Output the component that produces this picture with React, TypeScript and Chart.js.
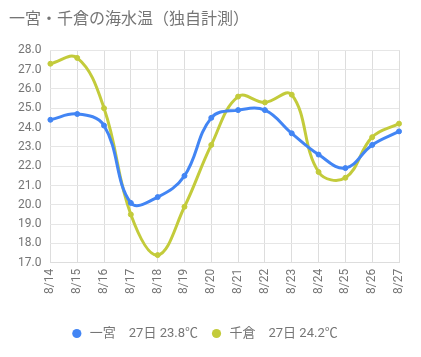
import React, { useEffect, useRef } from "react";
import { Chart, registerables } from "chart.js";

Chart.register(...registerables);

const categories = ["8/14", "8/15", "8/16", "8/17", "8/18", "8/19", "8/20", "8/21", "8/22", "8/23", "8/24", "8/25", "8/26", "8/27"];
const ichinomiya = [24.4, 24.7, 24.1, 20.1, 20.4, 21.5, 24.5, 24.9, 24.9, 23.7, 22.6, 21.9, 23.1, 23.8];
const chikura = [27.3, 27.6, 25.0, 19.5, 17.4, 19.9, 23.1, 25.6, 25.3, 25.7, 21.7, 21.4, 23.5, 24.2];
const seriesLabels = ["一宮　27日 23.8℃", "千倉　27日 24.2℃"];
const titleText = "一宮・千倉の海水温（独自計測）";

const FONT = "Roboto, 'Noto Sans CJK JP', sans-serif";
const GRAY = "#757575";

export default function App() {
  const ref = useRef<HTMLCanvasElement>(null);
  useEffect(() => {
    document.body.style.margin = "0";
    const chart = new Chart(ref.current!, {
      type: "line",
      data: {
        labels: categories,
        datasets: [
          {
            label: seriesLabels[0],
            data: ichinomiya,
            borderColor: "#4285F4",
            backgroundColor: "#4285F4",
            borderWidth: 3,
            pointRadius: 2.5,
            pointBorderWidth: 1,
            tension: 0.4,
          },
          {
            label: seriesLabels[1],
            data: chikura,
            borderColor: "#C3CB3B",
            backgroundColor: "#C3CB3B",
            borderWidth: 3,
            pointRadius: 2.5,
            pointBorderWidth: 1,
            tension: 0.4,
          },
        ],
      },
      options: {
        animation: false,
        responsive: false,
        maintainAspectRatio: false,
        layout: { padding: { left: 9, right: 22, top: 0, bottom: 7 } },
        plugins: {
          title: {
            display: true,
            text: titleText,
            align: "start",
            color: GRAY,
            font: { family: FONT, size: 16, weight: "normal" },
            padding: { top: 10, bottom: 21 },
          },
          legend: {
            position: "bottom",
            labels: {
              usePointStyle: true,
              pointStyle: "circle",
              boxWidth: 13,
              boxHeight: 6.5,
              color: GRAY,
              font: { family: FONT, size: 13 },
              padding: 12,
              generateLabels: (c: any) =>
                Chart.defaults.plugins.legend.labels.generateLabels(c).map((l: any) => ({ ...l, lineWidth: 0 })),
            },
          },
          tooltip: { enabled: false },
        },
        scales: {
          x: {
            grid: { color: "#dddddd", drawTicks: false },
            border: { color: "#dddddd" },
            afterFit: (s: any) => {
              s.height += 15;
            },
            ticks: {
              color: GRAY,
              font: { family: FONT, size: 12 },
              minRotation: 90,
              maxRotation: 90,
              padding: 6,
              autoSkip: false,
            },
          },
          y: {
            min: 17,
            max: 28,
            grid: { color: "#e6e6e6", drawTicks: false },
            border: { display: false },
            ticks: {
              stepSize: 1,
              color: GRAY,
              font: { family: FONT, size: 12 },
              padding: 9,
              callback: (v: any) => Number(v).toFixed(1),
            },
          },
        },
      },
    });
    return () => chart.destroy();
  }, []);
  return (
    <div style={{ width: 421, height: 357 }}>
      <canvas ref={ref} width={421} height={357} />
    </div>
  );
}
